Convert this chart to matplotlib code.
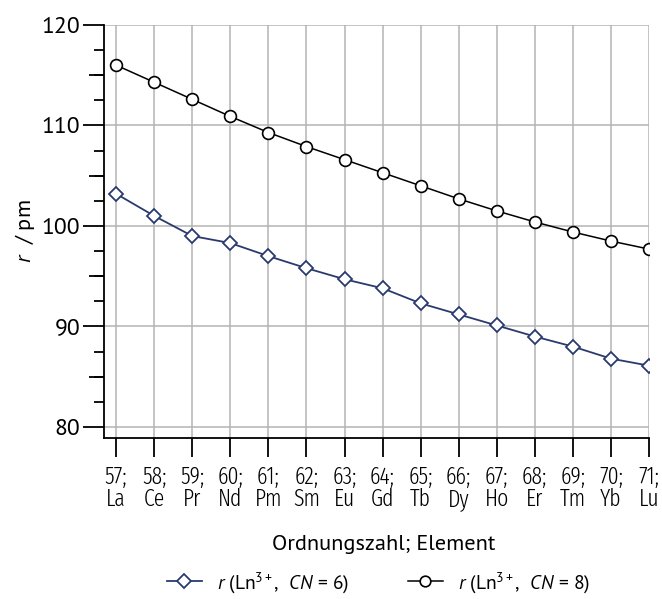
import matplotlib
matplotlib.use("Agg")
import matplotlib.pyplot as plt
from matplotlib.ticker import MultipleLocator

main_font = 'PT Sans'
narrow_font = 'Fira Sans Extra Condensed'
plt.rcParams['font.family'] = [main_font, 'DejaVu Sans']
plt.rcParams['mathtext.fontset'] = 'custom'
plt.rcParams['mathtext.rm'] = main_font
plt.rcParams['mathtext.it'] = main_font + ':italic'

atomic_numbers = [57, 58, 59, 60, 61, 62, 63, 64, 65, 66, 67, 68, 69, 70, 71]
elements = ["La", "Ce", "Pr", "Nd", "Pm", "Sm", "Eu", "Gd", "Tb", "Dy", "Ho", "Er", "Tm", "Yb", "Lu"]
r_cn6 = [103.2, 101.0, 99.0, 98.3, 97.0, 95.8, 94.7, 93.8, 92.3, 91.2, 90.1, 89.0, 88.0, 86.8, 86.1]
r_cn8 = [116.0, 114.3, 112.6, 110.9, 109.3, 107.9, 106.6, 105.3, 104.0, 102.7, 101.5, 100.4, 99.4, 98.5, 97.7]
tick_labels = [f"{n};\n{e}" for n, e in zip(atomic_numbers, elements)]
legend_labels = ["$r$ (Ln$^{3+}$,  $CN$ = 6)", "$r$ (Ln$^{3+}$,  $CN$ = 8)"]

fig = plt.figure(figsize=(6.62, 5.99), dpi=100)
ax = fig.add_axes([104/662, 1-438/599, (649-104)/662, (438-25)/599])

navy = '#2b3a6e'
l6, = ax.plot(atomic_numbers, r_cn6, color=navy, lw=1.3, marker='D', ms=7.5,
              mfc='white', mec=navy, mew=1.3, zorder=3)
l8, = ax.plot(atomic_numbers, r_cn8, color='black', lw=1.1, marker='o', ms=8.5,
              mfc='white', mec='black', mew=1.2, zorder=3)

ax.set_xlim(56.68, 71)
ax.set_ylim(78.9, 120)
ax.set_xticks(atomic_numbers)
ax.set_xticklabels(tick_labels, fontsize=17, linespacing=0.95, fontweight=350,
                   family=[narrow_font, 'DejaVu Sans'])
ax.set_yticks([80, 90, 100, 110, 120])
ax.tick_params(axis='y', labelsize=17, length=15, width=1.3, direction='out', pad=2)
ax.yaxis.set_minor_locator(MultipleLocator(2.5))
ax.tick_params(axis='y', which='minor', length=7, width=1.3)
ax.tick_params(axis='x', length=14, width=1.3, direction='out', pad=6)
sec = ax.secondary_yaxis('left')
sec.set_yticks([85, 95, 105, 115])
sec.tick_params(axis='y', length=11, width=1.3, labelleft=False)
sec.spines['left'].set_visible(False)

for s in ['top', 'right']:
    ax.spines[s].set_visible(False)
for s in ['left', 'bottom']:
    ax.spines[s].set_linewidth(1.3)

ax.set_xlabel("Ordnungszahl; Element", fontsize=16)
ax.xaxis.set_label_coords((384 - 104) / 545, (438 - 535) / 413)
ax.set_ylabel("$r$  / pm", fontsize=16, labelpad=3)

fig.legend([l6, l8], legend_labels,
           loc='center', bbox_to_anchor=(0.572, 0.028), ncol=2, frameon=False,
           fontsize=14, handlelength=1.8, handletextpad=0.8, columnspacing=3.0,
           markerscale=0.9)

ax.set_axisbelow(True)
ax.xaxis.grid(True, which='major', color='#b4b4b4', lw=1.1)
ax.yaxis.grid(True, which='major', color='#b4b4b4', lw=1.1)

fig.savefig("out.png", dpi=100)
